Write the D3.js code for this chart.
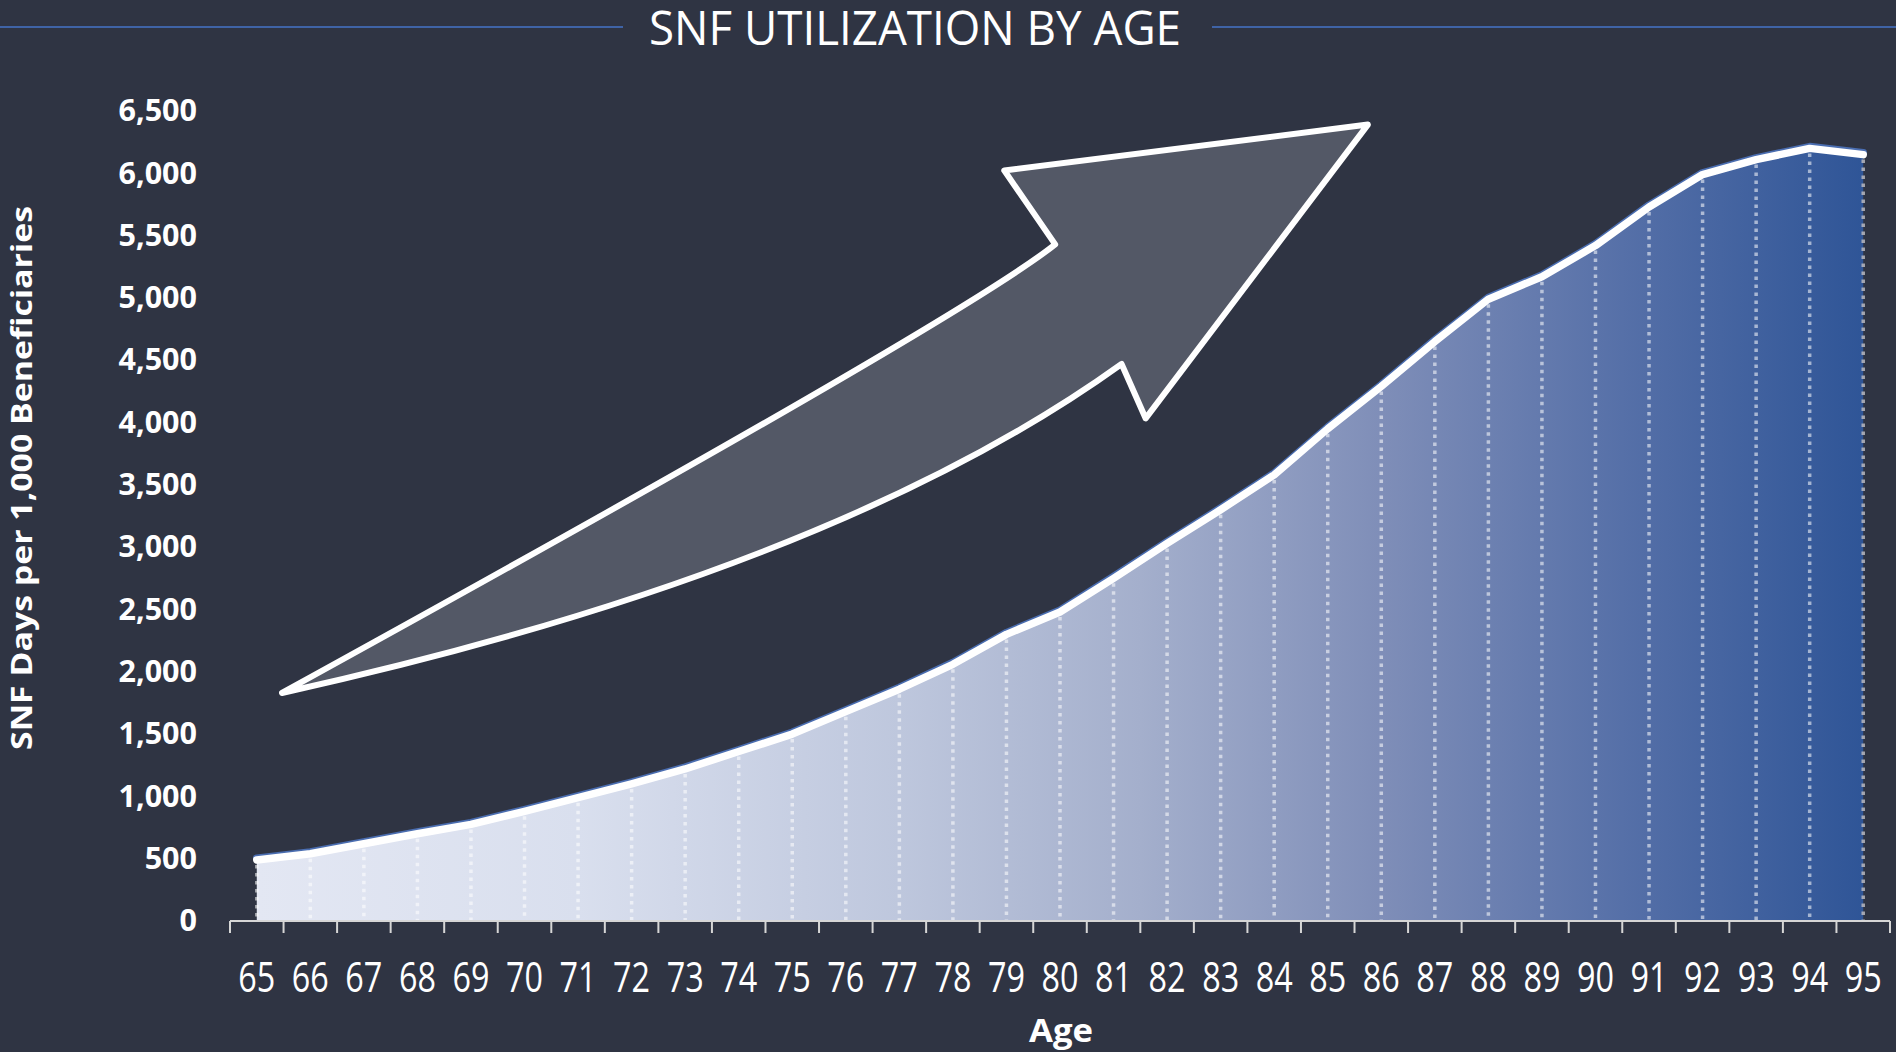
<!DOCTYPE html>
<html>
<head>
<meta charset="utf-8">
<script src="https://cdn.jsdelivr.net/npm/d3@7"></script>
<style>
  html, body { margin: 0; padding: 0; background: #2f3443; }
  svg { display: block; }
</style>
</head>
<body>
<svg id="chart" width="1896" height="1052"></svg>
<script>
// ---- Data ----
const ages = [65, 66, 67, 68, 69, 70, 71, 72, 73, 74, 75, 76, 77, 78, 79, 80,
              81, 82, 83, 84, 85, 86, 87, 88, 89, 90, 91, 92, 93, 94, 95];
const snfDays = [490, 540, 620, 700, 775, 880, 990, 1100, 1220, 1360, 1500,
                 1680, 1860, 2060, 2300, 2480, 2750, 3030, 3300, 3580, 3950,
                 4290, 4650, 4990, 5170, 5420, 5730, 5990, 6110, 6200, 6150];
const yTicks = [0, 500, 1000, 1500, 2000, 2500, 3000, 3500, 4000, 4500, 5000, 5500, 6000, 6500];
const titleText = "SNF UTILIZATION BY AGE";
const yTitle = "SNF Days per 1,000 Beneficiaries";
const xTitle = "Age";
// decorative trend arrow, anchored in data space (age, value)
const arrowTail = [65.47, 1830];
const arrowUpperCtrl = [78.19, 4838];
const arrowUpperNotch = [79.91, 5430];
const arrowUpperBarb = [78.96, 6022];
const arrowTip = [85.75, 6391];
const arrowLowerBarb = [81.60, 4033];
const arrowLowerNotch = [81.15, 4470];
const arrowLowerCtrl = [75.78, 2811];

// ---- Layout ----
const W = 1896, H = 1052;
const svg = d3.select("#chart");
const bg = "#2f3443";
svg.append("rect").attr("width", W).attr("height", H).attr("fill", bg);

const x = d3.scaleBand().domain(ages).range([230, 1890]).paddingInner(0).paddingOuter(0);
const px = d => x(d) + x.bandwidth() / 2;
const y = d3.scaleLinear().domain([0, 6500]).range([921, 111]);
const ageLin = d3.scaleLinear().domain([65, 95]).range([px(65), px(95)]);
const P = p => [ageLin(p[0]), y(p[1])];

const data = ages.map((a, i) => ({ age: a, v: snfDays[i] }));

// gradient
const defs = svg.append("defs");
const grad = defs.append("linearGradient").attr("id", "areaGrad")
  .attr("gradientUnits", "userSpaceOnUse")
  .attr("x1", px(65)).attr("x2", px(95)).attr("y1", 0).attr("y2", 0);
[[0, "#e3e7f3"], [0.2, "#d9dfee"], [0.4, "#bec7dd"], [0.55, "#a4afcc"],
 [0.7, "#7f8eb8"], [0.85, "#5670a8"], [1, "#2f5597"]].forEach(([o, c]) =>
  grad.append("stop").attr("offset", o).attr("stop-color", c));

const font = "'Open Sans', 'Noto Sans', sans-serif";

// ---- Title ----
const titleG = svg.append("g");
titleG.append("line").attr("x1", 0).attr("x2", 623).attr("y1", 27).attr("y2", 27)
  .attr("stroke", "#3f63a6").attr("stroke-width", 2);
titleG.append("line").attr("x1", 1212).attr("x2", W).attr("y1", 27).attr("y2", 27)
  .attr("stroke", "#3f63a6").attr("stroke-width", 2);
titleG.append("text").attr("x", 915).attr("y", 45)
  .attr("text-anchor", "middle")
  .attr("font-family", font)
  .attr("font-size", 48).attr("fill", "#ffffff")
  .attr("textLength", 532).attr("lengthAdjust", "spacingAndGlyphs")
  .text(titleText);

// ---- Area ----
const area = d3.area().x(d => px(d.age)).y0(y(0)).y1(d => y(d.v));
svg.append("path").datum(data).attr("d", area).attr("fill", "url(#areaGrad)");

// dotted drop lines
svg.append("g").selectAll("line").data(data).join("line")
  .attr("x1", d => px(d.age)).attr("x2", d => px(d.age))
  .attr("y1", d => y(d.v) + 5).attr("y2", y(0))
  .attr("stroke", (d, i) => i === data.length - 1 ? "rgba(185,185,190,0.85)" : "rgba(255,255,255,0.55)")
  .attr("stroke-width", 3.5)
  .attr("stroke-dasharray", "3.5,4.5");

// line (blue halo + white)
const line = d3.line().x(d => px(d.age)).y(d => y(d.v));
svg.append("path").datum(data).attr("d", line)
  .attr("transform", "translate(0,-1.8)")
  .attr("fill", "none").attr("stroke", "#4a6db0").attr("stroke-width", 7.5)
  .attr("stroke-linejoin", "round").attr("stroke-linecap", "round");
svg.append("path").datum(data).attr("d", line)
  .attr("fill", "none").attr("stroke", "#ffffff").attr("stroke-width", 7.5)
  .attr("stroke-linejoin", "round").attr("stroke-linecap", "round");

// ---- Arrow ----
const ap = d3.path();
const t = P(arrowTail), uc = P(arrowUpperCtrl), un = P(arrowUpperNotch), ub = P(arrowUpperBarb),
      tip = P(arrowTip), lb = P(arrowLowerBarb), ln = P(arrowLowerNotch), lc = P(arrowLowerCtrl);
ap.moveTo(t[0], t[1]);
ap.quadraticCurveTo(uc[0], uc[1], un[0], un[1]);
ap.lineTo(ub[0], ub[1]);
ap.lineTo(tip[0], tip[1]);
ap.lineTo(lb[0], lb[1]);
ap.lineTo(ln[0], ln[1]);
ap.quadraticCurveTo(lc[0], lc[1], t[0], t[1]);
ap.closePath();
svg.append("path").attr("d", ap.toString())
  .attr("fill", "#535866").attr("stroke", "#ffffff").attr("stroke-width", 6)
  .attr("stroke-linejoin", "round");

// ---- Axes ----
// Y axis labels
const yAxis = svg.append("g").attr("transform", "translate(200,0)")
  .call(d3.axisLeft(y).tickValues(yTicks).tickSize(0).tickPadding(3).tickFormat(d3.format(",")));
yAxis.select(".domain").remove();
yAxis.selectAll("text").attr("font-family", font).attr("font-weight", 700)
  .attr("font-size", 30.5).attr("fill", "#ffffff");

// X axis baseline + boundary ticks
const bounds = ages.map(a => x(a)).concat([x(ages[ages.length - 1]) + x.bandwidth()]);
svg.append("line").attr("x1", 230).attr("x2", 1890).attr("y1", y(0)).attr("y2", y(0))
  .attr("stroke", "#d6d6d6").attr("stroke-width", 2);
svg.append("g").selectAll("line").data(bounds).join("line")
  .attr("x1", d => d).attr("x2", d => d).attr("y1", y(0)).attr("y2", y(0) + 12)
  .attr("stroke", "#d6d6d6").attr("stroke-width", 2);

// X labels
const xAxis = svg.append("g").attr("transform", `translate(0,${y(0)})`)
  .call(d3.axisBottom(x).tickSize(0).tickPadding(0));
xAxis.select(".domain").remove();
xAxis.selectAll("text").attr("font-family", font).attr("font-weight", 400)
  .attr("font-size", 42).attr("fill", "#ffffff")
  .attr("dy", null).attr("y", 71)
  .attr("textLength", 37).attr("lengthAdjust", "spacingAndGlyphs");

// Axis titles
svg.append("text").attr("transform", "translate(32,478) rotate(-90)")
  .attr("text-anchor", "middle").attr("font-family", font).attr("font-weight", 700)
  .attr("font-size", 28).attr("fill", "#ffffff")
  .attr("textLength", 544).attr("lengthAdjust", "spacingAndGlyphs")
  .text(yTitle);
svg.append("text").attr("x", 1061).attr("y", 1042)
  .attr("text-anchor", "middle").attr("font-family", font).attr("font-weight", 700)
  .attr("font-size", 32).attr("fill", "#ffffff")
  .attr("textLength", 64).attr("lengthAdjust", "spacingAndGlyphs")
  .text(xTitle);
</script>
</body>
</html>
